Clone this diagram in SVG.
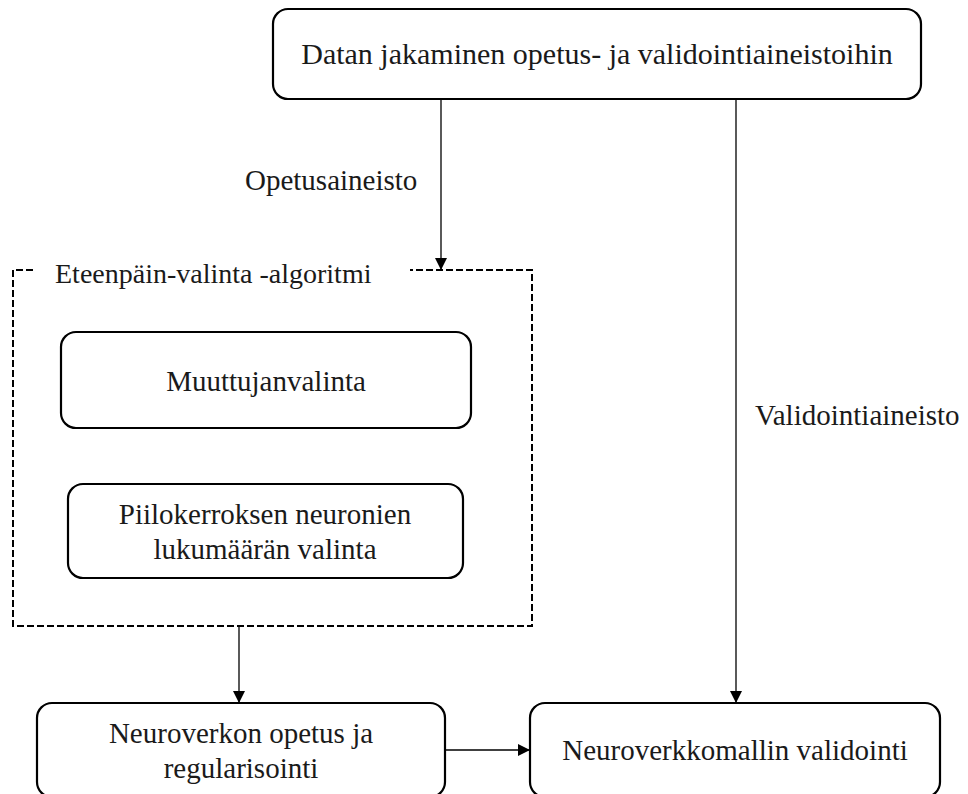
<svg xmlns="http://www.w3.org/2000/svg" width="968" height="794" viewBox="0 0 968 794">
<defs>
<style>
.box{fill:#fff;stroke:#000;stroke-width:2.2}
.t{font-family:'Liberation Serif','Tinos','DejaVu Serif',serif;font-size:29px;fill:#1a1a1a}
.c{text-anchor:middle}
.ln{stroke:#000;stroke-width:1.3;fill:none}
.dash{stroke:#000;stroke-width:2;fill:none;stroke-dasharray:7,3}
</style>
<marker id="ah" viewBox="0 0 12 12" refX="12" refY="6" markerWidth="12" markerHeight="12" markerUnits="userSpaceOnUse" orient="auto">
<path d="M0,0 L12,6 L0,12 z" fill="#000"/>
</marker>
</defs>
<rect width="968" height="794" fill="#fff"/>
<g id="group-eteenpain">
<path class="dash" d="M33,270 L13,270 L13,626 L532,626 L532,270 L410,270"/>
<text class="t" x="55" y="283" font-size="28" style="font-size:28px">Eteenpäin-valinta -algoritmi</text>
</g>
<g id="connectors">
<line class="ln" x1="441" y1="99" x2="441" y2="270" marker-end="url(#ah)"/>
<line class="ln" x1="736" y1="99" x2="736" y2="703" marker-end="url(#ah)"/>
<line class="ln" x1="239" y1="626" x2="239" y2="703" marker-end="url(#ah)"/>
<line class="ln" x1="445" y1="750" x2="530" y2="750" marker-end="url(#ah)"/>
<text class="t" x="245" y="190">Opetusaineisto</text>
<text class="t" x="755" y="425">Validointiaineisto</text>
</g>
<g id="node-datan">
<rect class="box" x="273" y="9" width="648" height="90" rx="15"/>
<text class="t c" x="597" y="64" style="font-size:30px">Datan jakaminen opetus- ja validointiaineistoihin</text>
</g>
<g id="node-muuttuja">
<rect class="box" x="61" y="332" width="410" height="96" rx="15"/>
<text class="t c" x="266" y="391">Muuttujanvalinta</text>
</g>
<g id="node-piilo">
<rect class="box" x="68" y="484" width="395" height="94" rx="15"/>
<text class="t c" x="265" y="524">Piilokerroksen neuronien</text>
<text class="t c" x="265" y="559">lukumäärän valinta</text>
</g>
<g id="node-opetus">
<rect class="box" x="37" y="703" width="408" height="94" rx="15"/>
<text class="t c" x="241" y="743">Neuroverkon opetus ja</text>
<text class="t c" x="241" y="778">regularisointi</text>
</g>
<g id="node-validointi">
<rect class="box" x="530" y="703" width="410" height="94" rx="15"/>
<text class="t c" x="735" y="760">Neuroverkkomallin validointi</text>
</g>
</svg>
